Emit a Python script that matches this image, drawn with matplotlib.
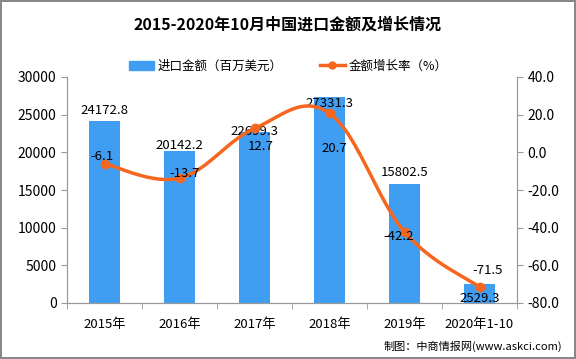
import numpy as np
import matplotlib
matplotlib.use("Agg")
from matplotlib import pyplot as plt

plt.rcParams['font.family'] = ['Noto Sans CJK SC', 'DejaVu Sans']

# data
years = ['2015年', '2016年', '2017年', '2018年', '2019年', '2020年1-10']
imports = [24172.8, 20142.2, 22699.3, 27331.3, 15802.5, 2529.3]
growth = [-6.1, -13.7, 12.7, 20.7, -42.2, -71.5]

bar_color = '#409EF2'
line_color = '#F7661E'
grey = '#999999'


def smooth(xs, ys, n=30, k=0.55):
    # cardinal spline, close to the office "smooth line" option
    xs = np.asarray(xs, float)
    ys = np.asarray(ys, float)
    px = np.concatenate([[xs[0]], xs, [xs[-1]]])
    py = np.concatenate([[ys[0]], ys, [ys[-1]]])
    outx, outy = [], []
    t = np.linspace(0, 1, n)
    h00 = 2 * t ** 3 - 3 * t ** 2 + 1
    h10 = t ** 3 - 2 * t ** 2 + t
    h01 = -2 * t ** 3 + 3 * t ** 2
    h11 = t ** 3 - t ** 2
    for i in range(1, len(px) - 2):
        for p, out in ((px, outx), (py, outy)):
            m1 = k * (p[i + 1] - p[i - 1])
            m2 = k * (p[i + 2] - p[i])
            out.extend(h00 * p[i] + h10 * m1 + h01 * p[i + 1] + h11 * m2)
    return np.array(outx), np.array(outy)


fig = plt.figure(figsize=(5.76, 3.59), dpi=100)
fig.patch.set_edgecolor('#888888')
fig.patch.set_linewidth(1.5)
ax = fig.add_axes([67 / 576, 1 - 303 / 359, 450 / 576, 226 / 359])
ax2 = ax.twinx()

x = np.arange(len(years))
ax.bar(x, imports, width=0.41, color=bar_color, zorder=2)
ax.set_xlim(-0.5, len(years) - 0.5)
ax.set_ylim(0, 30000)
ax.set_yticks(np.arange(0, 30001, 5000))
ax.set_xticks(x)
ax.set_xticklabels(years)
ax.set_xticks(np.arange(-0.5, len(years), 1), minor=True)
ax.tick_params(axis='x', which='major', length=0, pad=11, labelsize=9.5)
ax.tick_params(axis='x', which='minor', length=4, color=grey)
ax.tick_params(axis='y', length=4, color=grey, labelsize=10)

sx, sy = smooth(x, growth)
ax2.plot(sx, sy, color=line_color, lw=2.5, zorder=3)
ax2.plot(x, growth, 'o', color=line_color, ms=6, zorder=4)
ax2.set_ylim(-80, 40)
ax2.set_yticks(np.arange(-80, 41, 20))
ax2.yaxis.set_major_formatter(matplotlib.ticker.FormatStrFormatter('%.1f'))
ax2.tick_params(axis='y', length=4, color=grey, labelsize=10)

for a in (ax, ax2):
    a.spines['top'].set_visible(False)
    for s in ('left', 'right', 'bottom'):
        a.spines[s].set_color(grey)

# bar value labels, offsets in pixels from the bar top
bar_off = [10, 6, 0, -6, 11, -15]
for i, v in enumerate(imports):
    ax.annotate(f'{v:.1f}', (i, v), xytext=(0, bar_off[i]), textcoords='offset pixels',
                ha='center', va='center', fontsize=9.5, zorder=5)

# growth labels, offsets in pixels from the point
line_off = [(-3, 7), (5, 5), (6, -18), (5, -35), (-6, -5), (8, 16)]
for i, v in enumerate(growth):
    ax2.annotate(f'{v:.1f}', (i, v), xytext=line_off[i], textcoords='offset pixels',
                 ha='center', va='center', fontsize=9.5, zorder=5)

fig.text(0.5, 1 - 25 / 359, '2015-2020年10月中国进口金额及增长情况', ha='center', va='center',
         fontsize=11.5, fontweight='heavy')

# legend
h1 = matplotlib.patches.Patch(color=bar_color)
h2 = matplotlib.lines.Line2D([], [], color=line_color, lw=2.5, marker='o', ms=5)
fig.legend([h1, h2], ['进口金额（百万美元）', '金额增长率（%）'], loc='center',
           bbox_to_anchor=(288 / 576, 1 - 66 / 359), ncol=2, frameon=False, fontsize=9,
           handlelength=2.0, handletextpad=0.3, columnspacing=3.0)

fig.text(562 / 576, 1 - 346 / 359, '制图：中商情报网(www.askci.com)', ha='right', va='center',
         fontsize=8)

fig.savefig('out.png', dpi=100)
